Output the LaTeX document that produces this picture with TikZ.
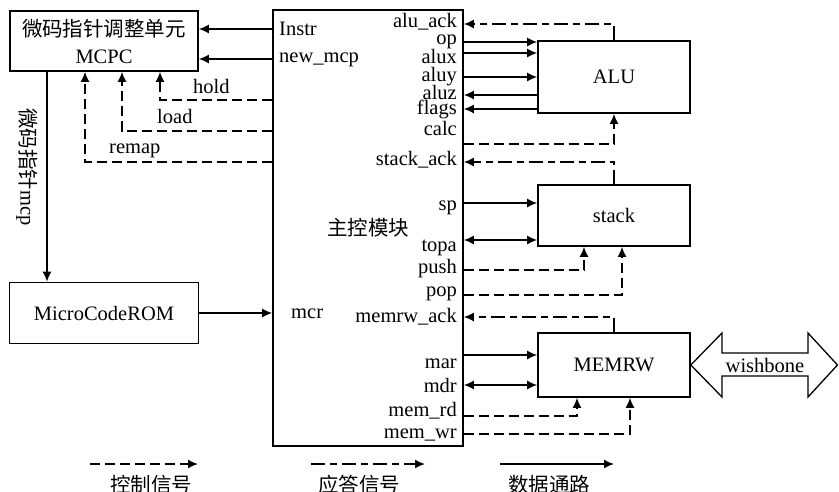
\documentclass[tikz,border=0pt]{standalone}
\usepackage{fontspec}
\setmainfont{Liberation Serif}
\newfontfamily\cjk{Noto Sans CJK SC}
\usetikzlibrary{arrows.meta,positioning,calc}
\newcommand\lbl{\fontsize{20.5}{24}\selectfont}
\tikzset{
  >={Latex[length=10pt,width=9pt]},
  block/.style={draw,line width=1.6pt,inner sep=0pt,font=\lbl},
  sig/.style={font=\lbl,inner sep=0pt},
  data/.style={->,line width=1.5pt},
  bidir/.style={<->,line width=1.5pt},
  ctrl/.style={data,dash pattern=on 10pt off 5pt},
  ack/.style={data,dash pattern=on 14pt off 5pt on 7pt off 5pt}
}
\begin{document}
\begin{tikzpicture}[x=1pt,y=-1pt]
  \useasboundingbox (0,0) rectangle (839,491);
  % blocks
  \node[block,minimum width=188pt,minimum height=60pt,align=center] (mcpc) at (104,41)
    {{\cjk 微码指针调整单元}\\[3pt]MCPC};
  \node[block,minimum width=189pt,minimum height=61pt] (rom) at (104,313) {MicroCodeROM};
  \node[block,minimum width=190pt,minimum height=436pt] (main) at (368,228) {};
  \node[block,minimum width=152pt,minimum height=72pt] (alu) at (614,77) {ALU};
  \node[block,minimum width=152pt,minimum height=61pt] (stack) at (614,215.5) {stack};
  \node[block,minimum width=152pt,minimum height=64pt] (memrw) at (614,365) {MEMRW};
  \node[sig,font=\lbl\cjk] (ctl) at (368,228) {主控模块};

  % left side of main block
  \draw[data] (main.west |- 0,29) -- (mcpc.east |- 0,29);
  \draw[data] (main.west |- 0,59) -- (mcpc.east |- 0,59);
  \draw[ctrl] (main.west |- 0,100) -| (mcpc.south -| 160,0);
  \draw[ctrl] (main.west |- 0,131) -| (mcpc.south -| 122,0);
  \draw[ctrl] (main.west |- 0,162) -| (mcpc.south -| 85,0);
  \draw[data] (mcpc.south -| 47,0) -- (rom.north -| 47,0);
  \draw[data] (rom.east |- 0,313) -- (main.west |- 0,313);
  \node[sig,anchor=base west] (instr) at (279,35) {Instr};
  \node[sig,anchor=base west] (newmcp) at (279,62) {new\_mcp};
  \node[sig,anchor=base west] (hold) at (193,93) {hold};
  \node[sig,anchor=base west] (load) at (157,123) {load};
  \node[sig,anchor=base west] (remap) at (109,153) {remap};
  \node[sig,anchor=base west] (mcr) at (291,318) {mcr};
  \node[sig,rotate=-90,font=\lbl\cjk] (mcp) at (27,167) {微码指针{\rmfamily mcp}};

  % ALU
  \draw[ack] (alu.north) |- (main.east |- 0,24);
  \draw[data] (main.east |- 0,42) -- (alu.west |- 0,42);
  \draw[data] (main.east |- 0,53) -- (alu.west |- 0,53);
  \draw[data] (main.east |- 0,77) -- (alu.west |- 0,77);
  \draw[data] (alu.west |- 0,95) -- (main.east |- 0,95);
  \draw[data] (alu.west |- 0,109) -- (main.east |- 0,109);
  \draw[ctrl] (main.east |- 0,144) -| (alu.south);

  % stack
  \draw[ack] (stack.north) |- (main.east |- 0,162);
  \draw[data] (main.east |- 0,203) -- (stack.west |- 0,203);
  \draw[bidir] (main.east |- 0,240) -- (stack.west |- 0,240);
  \draw[ctrl] (main.east |- 0,270) -| (stack.south -| 584,0);
  \draw[ctrl] (main.east |- 0,295) -| (stack.south -| 622,0);

  % MEMRW
  \draw[ack] (memrw.north) |- (main.east |- 0,317);
  \draw[data] (main.east |- 0,355) -- (memrw.west |- 0,355);
  \draw[bidir] (main.east |- 0,385) -- (memrw.west |- 0,385);
  \draw[ctrl] (main.east |- 0,416) -| (memrw.south -| 577,0);
  \draw[ctrl] (main.east |- 0,434) -| (memrw.south -| 630,0);

  % port names
  \foreach \name/\y in {alu\_ack/27,op/44,alux/63,aluy/81,aluz/99,flags/114,calc/135,
      stack\_ack/165,sp/210,topa/251,push/273,pop/296,memrw\_ack/322,
      mar/368,mdr/392,mem\_rd/416,mem\_wr/438}
    \node[sig,anchor=base east] at (457,\y) {\name};

  % wishbone bus
  \draw[line width=1.3pt,line join=miter] (memrw.east) -- (722,333) -- (722,353) -- (808,353)
    -- (808,333) -- (837.5,365) -- (808,397) -- (808,376) -- (722,376) -- (722,397) -- cycle;
  \node[sig] (wb) at (765,365) {wishbone};

  % legend
  \coordinate (lg1a) at (90,464);  \coordinate (lg1b) at (198,464);
  \coordinate (lg2a) at (311,464); \coordinate (lg2b) at (425,464);
  \coordinate (lg3a) at (500,464); \coordinate (lg3b) at (614,464);
  \draw[ctrl] (lg1a) -- (lg1b);
  \draw[ack] (lg2a) -- (lg2b);
  \draw[data] (lg3a) -- (lg3b);
  \node[sig,font=\lbl\cjk] (lgctl) at (151,485) {控制信号};
  \node[sig,font=\lbl\cjk] (lgack) at (359,485) {应答信号};
  \node[sig,font=\lbl\cjk] (lgdat) at (549,485) {数据通路};
\end{tikzpicture}
\end{document}
